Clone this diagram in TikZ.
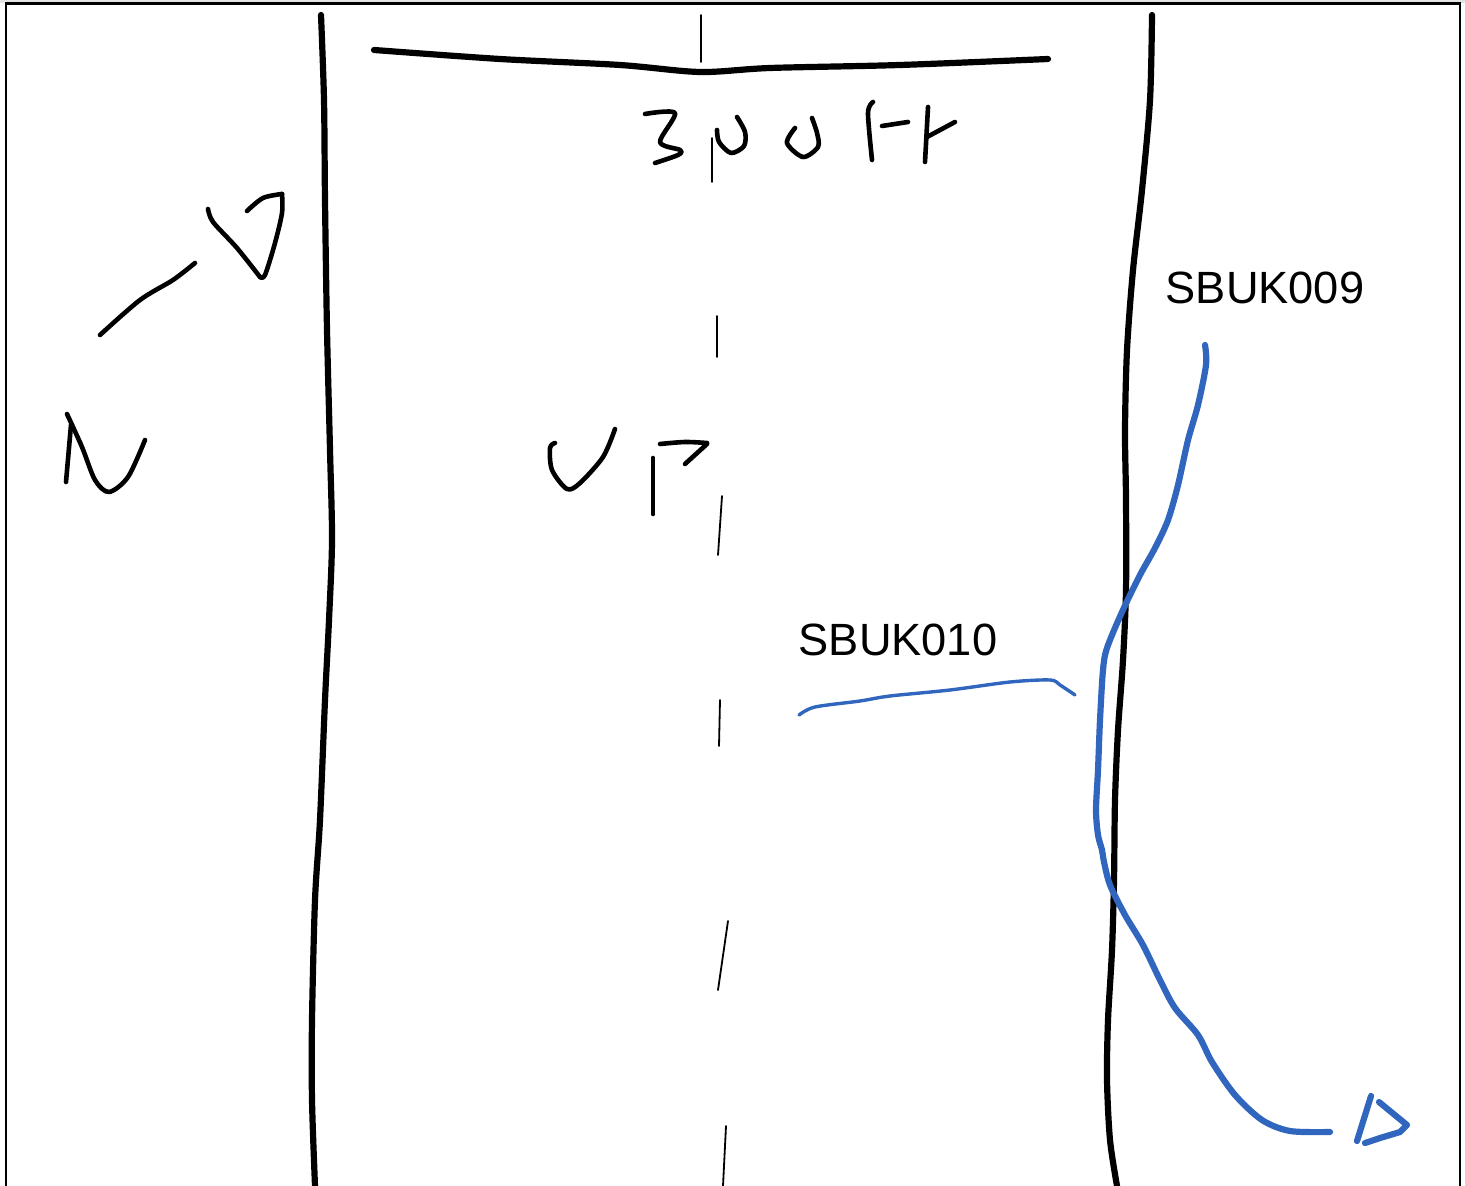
\documentclass[tikz,border=0pt]{standalone}
\usepackage{fontspec}
\setmainfont{Liberation Sans}
\definecolor{inkblue}{RGB}{48,102,190}
\tikzset{
    pen/.style={line width=2.6pt, line cap=round, line join=round},
    road/.style={pen, line width=3.1pt},
    hand/.style={pen, line width=2.3pt},
    dashline/.style={pen, line width=0.9pt},
    route/.style={pen, inkblue, line width=3.1pt},
    leader/.style={pen, inkblue, line width=1.7pt},
    tag/.style={font=\fontsize{22.6}{27}\selectfont, inner sep=0pt}
}
\begin{document}
\begin{tikzpicture}[x=0.5pt,y=-0.5pt]
    \useasboundingbox (0,0) rectangle (1465,1186);
    % page frame
    \fill[gray!22] (0,0) rectangle (1465,3);
    \draw[line width=1.2pt] (6,1186) -- (6,3.5) -- (1460,3.5) -- (1460,1186);
    % road edges
    \draw[road] plot[smooth] coordinates {(321,15) (324,100) (325,200) (327,330) (330,450) (332,540) (329,620) (325,700) (320,820) (315,900) (312,1020) (312,1100) (315,1186)};
    \draw[road] plot[smooth] coordinates {(1152,15) (1150,100) (1142,190) (1133,270) (1127,350) (1125,430) (1126,500) (1126,590) (1123,660) (1118,730) (1115,800) (1114,880) (1112,950) (1108,1020) (1107,1080) (1110,1140) (1117,1186)};
    % width mark
    \draw[road] plot[smooth] coordinates {(374,50) (500,59) (620,65) (700,72) (770,68) (900,65) (1048,59)};
    \draw[dashline] (701,15) -- (701,62);
    % 30 ft
    \draw[hand] plot[smooth] coordinates {(645,114) (675,113) (660,142) (680,150) (678,155) (655,163)};
    \draw[dashline] (712,138) -- (712,182);
    \draw[hand] plot[smooth] coordinates {(717,130) (719,142) (731,153) (744,146) (745,132) (737,117)};
    \draw[hand] plot[smooth] coordinates {(795,128) (787,143) (803,157) (818,147) (817,133) (812,118)};
    \draw[hand] plot[smooth] coordinates {(873,102) (868,113) (872,160)};
    \draw[hand] (882,126) -- (908,122);
    \draw[hand] (928,107) -- (925,162);
    \draw[hand] (955,122) -- (927,137);
    % north arrow
    \draw[hand] plot[smooth] coordinates {(100,335) (140,300) (173,280) (195,263)};
    \draw[hand] plot[smooth] coordinates {(208,209) (213,222) (237,248) (260,277)};
    \draw[hand] plot[smooth] coordinates {(260,277) (265,275) (275,243) (282,213) (282,194)};
    \draw[hand] plot[smooth] coordinates {(282,194) (263,198) (247,211)};
    \draw[hand] (66,482) -- (71,425);
    \draw[hand] plot[smooth] coordinates {(67,414) (82,447) (95,480) (109,492) (128,477) (145,440)};
    % up
    \draw[hand] plot[smooth] coordinates {(555,443) (550,448) (552,470) (567,489) (580,483) (603,457) (615,429)};
    \draw[hand] (653,458) -- (653,514);
    \draw[hand] plot[smooth] coordinates {(660,444) (685,442) (707,443)};
    \draw[hand] (707,444) -- (685,464);
    % centre line
    \draw[dashline] (717,316) -- (717,357);
    \draw[dashline] (722,496) -- (718,555);
    \draw[dashline] (720,700) -- (719,746);
    \draw[dashline] (728,921) -- (718,990);
    \draw[dashline] (726,1126) -- (723,1186);
    % blue route
    \draw[route] plot[smooth] coordinates {(1205,345) (1206,365) (1198,405) (1188,440) (1178,485) (1168,520) (1155,548) (1140,575) (1122,612) (1107,648) (1103,670) (1100,720) (1098,770) (1096,810) (1098,835) (1102,850) (1104,862) (1110,885) (1125,915) (1143,945) (1160,980) (1175,1008) (1198,1035) (1212,1062) (1235,1095) (1262,1120) (1290,1131) (1330,1132)};
    \draw[route] (1371,1096) -- (1357,1141);
    \draw[route] (1379,1102) -- (1407,1125) -- (1400,1132) -- (1380,1138) -- (1365,1143);
    \draw[leader] plot[smooth] coordinates {(799,715) (815,707) (860,701) (890,696) (950,690) (1010,682) (1050,680) (1060,685) (1075,695)};
    % labels
    \draw (1265,288) node[tag] (sbuknine) {SBUK009};
    \draw (898,640) node[tag] (sbukten) {SBUK010};
\end{tikzpicture}
\end{document}
